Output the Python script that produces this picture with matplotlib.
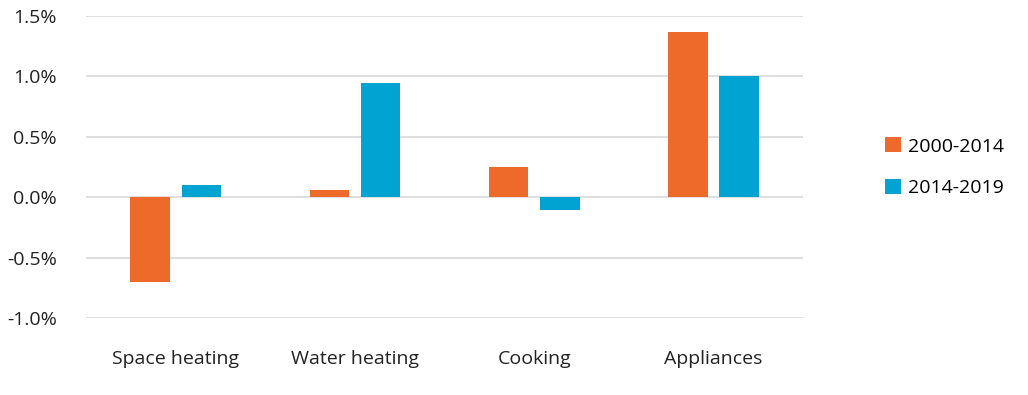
import matplotlib.pyplot as plt
import matplotlib.font_manager as fm
import numpy as np
from matplotlib.ticker import FuncFormatter

# Data
categories = ["Space heating", "Water heating", "Cooking", "Appliances"]
series_names = ["2000-2014", "2014-2019"]
growth_2000_2014 = [-0.70, 0.06, 0.25, 1.37]
growth_2014_2019 = [0.10, 0.95, -0.10, 1.00]
colors = ["#EE6A2A", "#00A3D1"]

names = {f.name for f in fm.fontManager.ttflist}
family = "Liberation Sans Narrow" if "Liberation Sans Narrow" in names else "Open Sans"
plt.rcParams["font.family"] = [family, "DejaVu Sans"]

fig = plt.figure(figsize=(10.28, 3.95), dpi=100)
ax = fig.add_axes([0.0837, 0.194, 0.6975, 0.7655])

x = np.arange(len(categories))
width = 0.22
offset = 0.143
ax.bar(x - offset, growth_2000_2014, width, color=colors[0], label=series_names[0], zorder=3)
ax.bar(x + offset, growth_2014_2019, width, color=colors[1], label=series_names[1], zorder=3)

ax.set_xlim(-0.5, len(categories) - 0.5)
ax.set_ylim(-1.0, 1.5)
ax.set_yticks([-1.0, -0.5, 0.0, 0.5, 1.0, 1.5])
ax.yaxis.set_major_formatter(FuncFormatter(lambda v, _: f"{v:.1f}%"))
ax.set_xticks(x)
ax.set_xticklabels(categories)

ax.grid(axis="y", color="#D9D9D9", linewidth=1.2, zorder=0)
for s in ax.spines.values():
    s.set_visible(False)
ax.tick_params(axis="both", length=0, labelsize=14, labelcolor="#222222")
ax.tick_params(axis="y", pad=21)
ax.tick_params(axis="x", pad=23)

ax.legend(loc="center left", bbox_to_anchor=(1.09, 0.5), frameon=False,
          fontsize=14, handlelength=0.8, handleheight=0.8, handletextpad=0.4,
          labelspacing=1.2)

fig.savefig("out.png", dpi=100)
